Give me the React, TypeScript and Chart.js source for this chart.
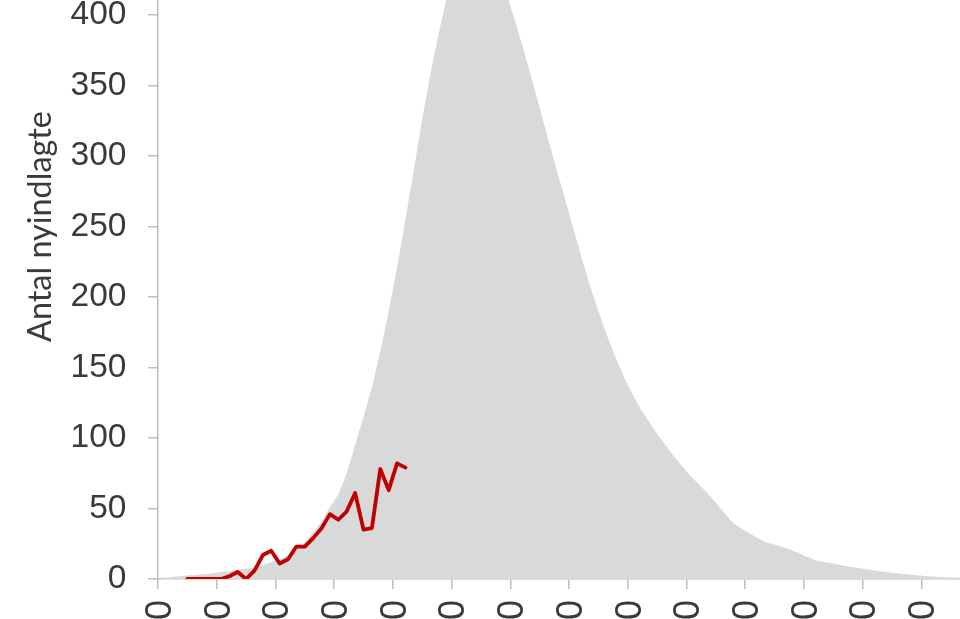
import React, { useEffect, useRef } from "react";
import { Chart, registerables } from "chart.js";

Chart.register(...registerables);

// Weekly tick labels (one every 7 days)
const xTickLabels = [
  "01-03-2020", "08-03-2020", "15-03-2020", "22-03-2020", "29-03-2020",
  "05-04-2020", "12-04-2020", "19-04-2020", "26-04-2020", "03-05-2020",
  "10-05-2020", "17-05-2020", "24-05-2020", "31-05-2020", "07-06-2020",
];

// Projection (grey area), one value per day starting at day 0
const forecastValues = [
  1, 1.5, 2, 2.5, 3, 3.5, 4, 5, 5.5, 6.5,
  7.5, 8, 10, 12, 14, 17, 21, 26, 33, 41,
  51, 60, 75, 95, 115, 136, 161, 190, 221, 255,
  290, 326, 359, 388, 414, 436, 452, 461, 463, 456,
  439, 416, 397, 377, 356, 334, 312, 291, 270, 249,
  228, 208, 190, 173, 158, 144, 132, 121, 112, 103,
  95, 87, 80, 73, 67, 61, 54, 47, 40, 36,
  32.5, 29, 26, 24.5, 22.5, 20.5, 18, 15.5, 13, 12,
  11, 9.8, 8.7, 7.8, 6.9, 6, 5.1, 4.4, 3.8, 3.2,
  2.7, 2.2, 1.8, 1.5, 1.1, 0.9, 0.7, 0.5,
];

// Actual newly admitted (red line), starting at day 3
const admittedStartDay = 3;
const admittedValues = [
  0, 0, 0, 0, 0, 2, 5, 0, 6, 17,
  20, 11, 14, 23, 23, 29, 36, 46, 42, 48,
  61, 35, 36, 78, 63, 82, 79,
];

const yMax = 500;
const yStep = 50;
const xStep = 7;
const xMax = 98;

export default function App() {
  const ref = useRef<HTMLCanvasElement>(null);

  useEffect(() => {
    const canvas = ref.current;
    if (!canvas) return;
    const family = '"Liberation Sans", Arial, sans-serif';
    const axisGrey = "#bfbfbf";
    const textColor = "#3a3a3a";
    const chart = new Chart(canvas, {
      type: "line",
      data: {
        datasets: [
          {
            label: "Nyindlagte",
            data: admittedValues.map((v, i) => ({ x: admittedStartDay + i + 0.5, y: v })),
            borderColor: "#c00000",
            borderWidth: 3.8,
            borderJoinStyle: "round",
            borderCapStyle: "round",
            pointRadius: 0,
            fill: false,
            tension: 0,
            order: 0,
          },
          {
            label: "Prognose",
            data: forecastValues.map((v, i) => ({ x: i + 0.5, y: v })),
            backgroundColor: "#d9d9d9",
            borderWidth: 0,
            pointRadius: 0,
            fill: "origin",
            tension: 0,
            order: 1,
          },
        ],
      },
      options: {
        responsive: false,
        animation: false,
        devicePixelRatio: 1,
        layout: { padding: { left: 0, top: 0, right: 20, bottom: 0 } },
        plugins: { legend: { display: false }, tooltip: { enabled: false } },
        scales: {
          x: {
            type: "linear",
            min: 0,
            max: xMax,
            ticks: {
              stepSize: xStep,
              autoSkip: false,
              minRotation: 90,
              maxRotation: 90,
              padding: 11,
              labelOffset: 3,
              font: { family, size: 36 },
              color: textColor,
              callback: (v: any) => xTickLabels[Math.round(Number(v) / xStep)] ?? "",
            },
            grid: { drawOnChartArea: false, drawTicks: true, tickLength: 10, color: axisGrey, lineWidth: 1.5 },
            border: { display: true, color: axisGrey, width: 1.5 },
            afterFit: (s: any) => {
              s.height = 200;
              s.paddingLeft = 0;
              s.paddingRight = 0;
            },
          },
          y: {
            min: 0,
            max: yMax,
            ticks: { stepSize: yStep, padding: 21.6, font: { family, size: 33.5 }, color: textColor },
            grid: { drawOnChartArea: false, drawTicks: true, tickLength: 10, color: axisGrey, lineWidth: 1.5 },
            border: { display: true, color: axisGrey, width: 1.5 },
            title: {
              display: true,
              text: "Antal nyindlagte",
              font: { family: "Lato, 'Open Sans', sans-serif", size: 32.4, lineHeight: 1.2 },
              color: textColor,
              padding: { top: 21.4, bottom: 0 },
            },
            afterFit: (s: any) => {
              s.width = 158;
              s.paddingTop = 0;
              s.paddingBottom = 0;
            },
          },
        },
      },
    } as any);
    return () => chart.destroy();
  }, []);

  return (
    <div
      style={{
        position: "fixed",
        left: 0,
        top: 0,
        width: 960,
        height: 619,
        overflow: "hidden",
        background: "#ffffff",
      }}
    >
      <canvas
        ref={ref}
        width={1000}
        height={905}
        style={{ position: "absolute", left: 0, top: -126, width: 1000, height: 905 }}
      />
    </div>
  );
}
